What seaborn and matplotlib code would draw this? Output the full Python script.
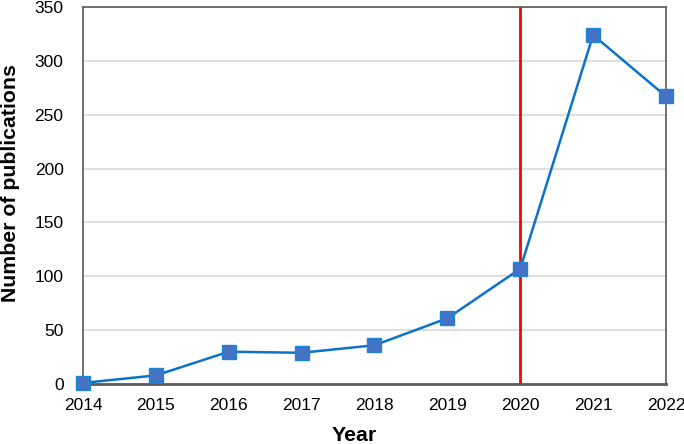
import matplotlib
matplotlib.use("Agg")
from matplotlib import pyplot as plt
import seaborn as sns
import pandas as pd

years = [2014, 2015, 2016, 2017, 2018, 2019, 2020, 2021, 2022]
publications = [1, 8, 30, 29, 36, 61, 107, 324, 267]
y_ticks = [0, 50, 100, 150, 200, 250, 300, 350]

df = pd.DataFrame({"Year": years, "Publications": publications})

sns.set_style("white")
plt.rcParams["font.family"] = ["Liberation Sans", "DejaVu Sans"]

fig = plt.figure(figsize=(6.84, 4.44), dpi=100)
ax = fig.add_axes([0.1213, 0.1351, 0.8524, 0.8491])

for t in y_ticks[1:]:
    ax.axhline(t, color="#d9d9d9", lw=1.2, zorder=0)

sns.lineplot(data=df, x="Year", y="Publications", ax=ax, color="#0a72c8", lw=1.8,
             marker="s", markersize=10, markerfacecolor="#4472c4",
             markeredgecolor="#1a86d6", markeredgewidth=1, clip_on=False, zorder=3)

ax.axvline(2020, color="#ff0000", lw=2, zorder=2)

ax.set_xlim(2014, 2022)
ax.set_ylim(0, 350)
ax.set_xticks(years)
ax.set_yticks(y_ticks)
ax.tick_params(axis="x", labelsize=12.5, length=0, pad=10, colors="#000000")
ax.tick_params(axis="y", labelsize=12.5, length=0, pad=14, colors="#000000")
ax.set_xlabel("Year", fontsize=15.3, fontweight="bold", color="#000000")
ax.set_ylabel("Number of publications", fontsize=15.3, fontweight="bold", color="#000000")
ax.yaxis.set_label_coords(-0.108, 0.532)
ax.xaxis.set_label_coords(0.466, -0.112)

for side in ["top", "right", "left"]:
    ax.spines[side].set_color("#595959")
    ax.spines[side].set_linewidth(1.2)
ax.spines["bottom"].set_color("#595959")
ax.spines["bottom"].set_linewidth(2)

fig.savefig("out.png", dpi=100)
